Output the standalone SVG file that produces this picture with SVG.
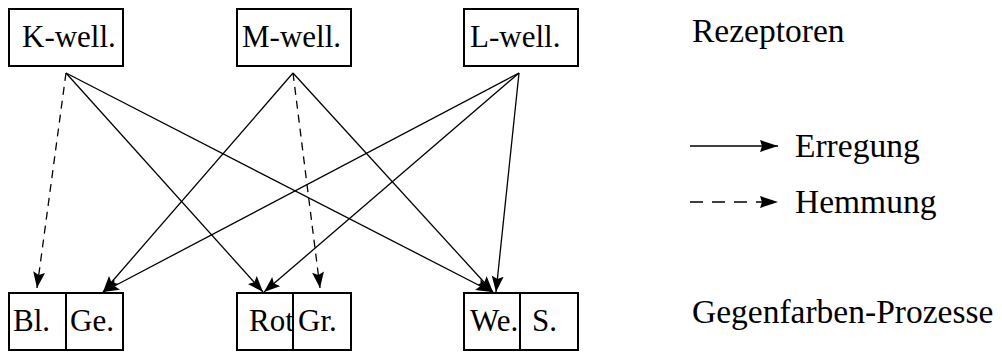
<svg xmlns="http://www.w3.org/2000/svg" width="1002" height="352" viewBox="0 0 1002 352">
<style>
  .box{fill:#fff;stroke:#000;stroke-width:2}
  .t{font-family:"Liberation Serif","Times New Roman",serif;font-size:31px;fill:#000}
  .lg{font-family:"Liberation Serif","Times New Roman",serif;font-size:33.5px;fill:#000}
  .c{stroke:#000;stroke-width:1.3;fill:none;marker-end:url(#ah)}
  .d{stroke-dasharray:8,6}
  .l{stroke:#000;stroke-width:1.6;fill:none;marker-end:url(#ahs)}
</style>
<defs>
  <marker id="ah" markerUnits="userSpaceOnUse" markerWidth="18" markerHeight="13" refX="16" refY="6" orient="auto">
    <path d="M0,0 L16,6 L0,12 L3,6 Z" fill="#000"/>
  </marker>
  <marker id="ahs" markerUnits="userSpaceOnUse" markerWidth="20" markerHeight="13" refX="18" refY="6" orient="auto">
    <path d="M0,0 L18,6 L0,12 L2,6 Z" fill="#000"/>
  </marker>
</defs>
<rect width="1002" height="352" fill="#fff"/>
<g id="connectors">
  <line class="c d" x1="66" y1="73" x2="37" y2="288"/>
  <line class="c" x1="66" y1="73" x2="263" y2="292"/>
  <line class="c" x1="66" y1="73" x2="492" y2="292"/>
  <line class="c" x1="293" y1="73" x2="103" y2="292"/>
  <line class="c d" x1="293" y1="73" x2="320" y2="288"/>
  <line class="c" x1="293" y1="73" x2="493" y2="292"/>
  <line class="c" x1="519" y1="73" x2="103" y2="292"/>
  <line class="c" x1="519" y1="73" x2="264" y2="292"/>
  <line class="c" x1="519" y1="73" x2="496" y2="292"/>
</g>
<g id="k-well">
  <rect class="box" x="9" y="9" width="114" height="57"/>
  <text class="t" x="22" y="47">K-well.</text>
</g>
<g id="m-well">
  <rect class="box" x="237" y="9" width="114" height="57"/>
  <text class="t" x="242" y="47">M-well.</text>
</g>
<g id="l-well">
  <rect class="box" x="464" y="9" width="114" height="57"/>
  <text class="t" x="470" y="47">L-well.</text>
</g>
<g id="bl-ge">
  <rect class="box" x="9" y="293" width="114" height="57"/>
  <line x1="66" y1="293" x2="66" y2="350" stroke="#000" stroke-width="2"/>
  <text class="t" x="13" y="331">Bl.</text>
  <text class="t" x="70" y="331">Ge.</text>
</g>
<g id="rot-gr">
  <rect class="box" x="237" y="293" width="114" height="57"/>
  <line x1="293" y1="293" x2="293" y2="350" stroke="#000" stroke-width="2"/>
  <text class="t" x="249" y="331">Rot</text>
  <text class="t" x="298" y="331">Gr.</text>
</g>
<g id="we-s">
  <rect class="box" x="464" y="293" width="114" height="57"/>
  <line x1="520" y1="293" x2="520" y2="350" stroke="#000" stroke-width="2"/>
  <text class="t" x="470" y="331">We.</text>
  <text class="t" x="532" y="331">S.</text>
</g>
<g id="legend">
  <text class="lg" x="692" y="42">Rezeptoren</text>
  <line class="l" x1="690" y1="146" x2="778" y2="146"/>
  <text class="lg" x="795" y="157">Erregung</text>
  <line class="l" x1="690" y1="202" x2="778" y2="202" stroke-dasharray="13,9"/>
  <text class="lg" x="795" y="213">Hemmung</text>
  <text class="lg" x="692" y="323">Gegenfarben-Prozesse</text>
</g>
</svg>
